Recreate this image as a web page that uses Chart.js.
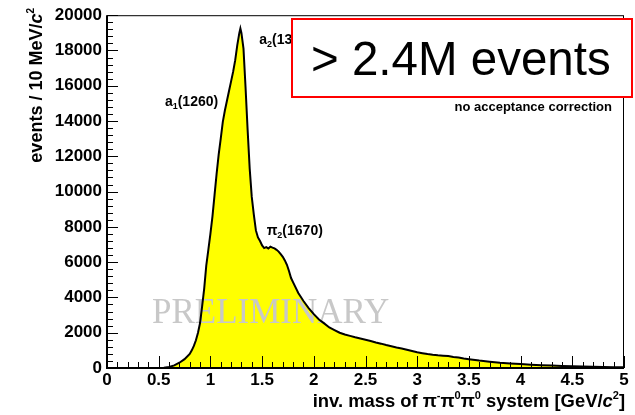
<!DOCTYPE html>
<html>
<head>
<meta charset="utf-8">
<script src="https://cdn.jsdelivr.net/npm/chart.js@4"></script>
<style>
  html, body { margin: 0; padding: 0; background: #fff; }
</style>
</head>
<body>
<canvas id="massChart" width="635" height="415"></canvas>
<script>
// pi- pi0 pi0 invariant mass spectrum (bin centres in GeV, events per 10 MeV)
const massGeV = [
  0.00, 0.50, 0.55, 0.60, 0.65, 0.70, 0.75, 0.80, 0.82, 0.84, 0.86, 0.88, 0.90,
  0.92, 0.94, 0.96, 0.98, 1.00, 1.02, 1.04, 1.06, 1.08, 1.10, 1.12, 1.14, 1.16,
  1.18, 1.20, 1.22, 1.24, 1.26, 1.28, 1.29, 1.30, 1.32, 1.34, 1.36, 1.38, 1.40,
  1.42, 1.44, 1.46, 1.48, 1.50, 1.52, 1.54, 1.56, 1.58, 1.60, 1.62, 1.64, 1.66,
  1.68, 1.70, 1.72, 1.74, 1.76, 1.78, 1.80, 1.85, 1.90, 1.95, 2.00, 2.05, 2.10,
  2.15, 2.20, 2.25, 2.30, 2.35, 2.40, 2.45, 2.50, 2.55, 2.60, 2.65, 2.70, 2.75,
  2.80, 2.85, 2.90, 2.95, 3.00, 3.05, 3.10, 3.15, 3.20, 3.25, 3.30, 3.35, 3.40,
  3.45, 3.50, 3.60, 3.70, 3.80, 3.90, 4.00, 4.10, 4.20, 4.30, 4.40, 4.50, 4.60,
  4.70, 4.80, 4.90, 5.00
];
const eventCounts = [
  0, 0, 15, 60, 150, 300, 500, 800, 1000, 1250, 1570, 2000, 2550,
  3500, 4500, 5800, 6700, 7600, 8600, 9800, 11000, 12100, 13000, 13950, 14600, 15150,
  15700, 16250, 16800, 17450, 18300, 19000, 19250, 19000, 18100, 15900, 13500, 11300, 9700,
  8700, 7800, 7400, 7200, 6950, 6800, 6850, 6780, 6880, 6820, 6780, 6700, 6600,
  6450, 6300, 6100, 5850, 5500, 5100, 4850, 4250, 3800, 3400, 3050, 2750, 2530,
  2300, 2150, 2000, 1900, 1820, 1740, 1670, 1600, 1530, 1450, 1380, 1300, 1230,
  1160, 1100, 1030, 960, 890, 840, 790, 750, 720, 700, 680, 630, 590,
  540, 500, 420, 355, 300, 260, 220, 190, 160, 135, 110, 95, 80,
  65, 55, 45, 40
];
const xTickValues = [0, 0.5, 1, 1.5, 2, 2.5, 3, 3.5, 4, 4.5, 5];
const yTickValues = [0, 2000, 4000, 6000, 8000, 10000, 12000, 14000, 16000, 18000, 20000];

const SANS = '"Liberation Sans", Arial, sans-serif';

// text made of runs with their own font and vertical shift (sub/superscripts)
function runsWidth(ctx, runs) {
  let w = 0;
  for (const r of runs) { ctx.font = r.font; w += ctx.measureText(r.text).width; }
  return w;
}
function drawRuns(ctx, runs, x, y) {
  for (const r of runs) {
    ctx.font = r.font;
    ctx.fillText(r.text, x, y + (r.dy || 0));
    x += ctx.measureText(r.text).width;
  }
}

function peakRuns(name, sub, mass) {
  return [
    { text: name, font: 'bold 14px ' + SANS },
    { text: sub, font: 'bold 9px ' + SANS, dy: 3 },
    { text: mass, font: 'bold 14px ' + SANS }
  ];
}

const decor = {
  id: 'decor',
  beforeDatasetDraw(chart, args) {
    // watermark goes between the yellow fill and the black outline
    if (args.index !== 0) return;
    const { ctx, chartArea: a } = chart;
    ctx.save();
    ctx.fillStyle = '#c8c8c8';
    ctx.font = '35px "Liberation Serif"';
    ctx.textBaseline = 'alphabetic';
    ctx.fillText('PRELIMINARY', a.left + 45, a.bottom - 45);
    ctx.restore();
  },
  afterDatasetsDraw(chart) {
    const { ctx, chartArea: a, scales } = chart;
    const xs = scales.x, ys = scales.y;
    ctx.save();

    // inward ticks, 5 subdivisions per labelled step
    ctx.strokeStyle = '#000';
    ctx.lineWidth = 1;
    ctx.beginPath();
    for (let i = 0; i <= 50; i++) {
      const px = Math.round(xs.getPixelForValue(i / 10)) + 0.5;
      const len = i % 5 === 0 ? 12 : 6;
      ctx.moveTo(px, a.bottom);
      ctx.lineTo(px, a.bottom - len);
    }
    for (let i = 0; i <= 50; i++) {
      const py = Math.round(ys.getPixelForValue(i * 400)) + 0.5;
      const len = i % 5 === 0 ? 11 : 6;
      ctx.moveTo(a.left, py);
      ctx.lineTo(a.left + len, py);
    }
    ctx.stroke();

    // frame
    ctx.strokeRect(a.left + 0.5, a.top + 0.5, a.right - a.left - 1, a.bottom - a.top);
    ctx.lineWidth = 2;
    ctx.beginPath();
    ctx.moveTo(a.left, a.top);
    ctx.lineTo(a.left, a.bottom);
    ctx.lineTo(a.right, a.bottom);
    ctx.stroke();

    // resonance labels
    ctx.fillStyle = '#000';
    ctx.textBaseline = 'alphabetic';
    drawRuns(ctx, peakRuns('a', '1', '(1260)'), xs.getPixelForValue(0.56), ys.getPixelForValue(14850));
    drawRuns(ctx, peakRuns('a', '2', '(1320)'), xs.getPixelForValue(1.472), ys.getPixelForValue(18380));
    drawRuns(ctx, peakRuns('\u03c0', '2', '(1670)'), xs.getPixelForValue(1.544), ys.getPixelForValue(7560));

    // event count box
    ctx.fillStyle = '#fff';
    ctx.fillRect(292, 19, 341, 78);
    ctx.strokeStyle = '#ff0000';
    ctx.lineWidth = 2;
    ctx.strokeRect(292, 19, 340, 78);
    ctx.fillStyle = '#000';
    ctx.font = '47.5px ' + SANS;
    ctx.fillText('> 2.4M events', 311, 75);

    ctx.font = 'bold 13px ' + SANS;
    ctx.textAlign = 'right';
    ctx.fillText('no acceptance correction', 612, 111);
    ctx.textAlign = 'left';

    // axis titles
    const f = 'bold 18.4px ' + SANS, fs = 'bold 11px ' + SANS, fi = 'italic bold 18.4px ' + SANS;
    const xTitle = [
      { text: 'inv. mass of \u03c0', font: f },
      { text: '-', font: fs, dy: -8 },
      { text: '\u03c0', font: f },
      { text: '0', font: fs, dy: -8 },
      { text: '\u03c0', font: f },
      { text: '0', font: fs, dy: -8 },
      { text: ' system [GeV/', font: f },
      { text: 'c', font: fi },
      { text: '2', font: fs, dy: -8 },
      { text: ']', font: f }
    ];
    drawRuns(ctx, xTitle, 625 - runsWidth(ctx, xTitle), 407);

    const g = 'bold 18px ' + SANS, gs = 'bold 10px ' + SANS, gi = 'italic bold 18px ' + SANS;
    const yTitle = [
      { text: 'events / 10 MeV/', font: g },
      { text: 'c', font: gi },
      { text: '2', font: gs, dy: -8 }
    ];
    const yw = runsWidth(ctx, yTitle);
    ctx.save();
    ctx.translate(42, 8 + yw);
    ctx.rotate(-Math.PI / 2);
    drawRuns(ctx, yTitle, 0, 0);
    ctx.restore();

    ctx.restore();
  }
};

const points = massGeV.map((m, i) => ({ x: m, y: eventCounts[i] }));

const config = {
  type: 'line',
  data: {
    datasets: [
      {
        label: 'outline',
        data: points,
        borderColor: '#000',
        borderWidth: 2,
        fill: false,
        pointRadius: 0,
        tension: 0
      },
      {
        label: 'fill',
        data: points,
        borderWidth: 0,
        borderColor: 'rgba(0,0,0,0)',
        backgroundColor: '#ffff00',
        fill: 'origin',
        pointRadius: 0,
        tension: 0
      }
    ]
  },
  options: {
    responsive: false,
    animation: false,
    devicePixelRatio: 1,
    layout: { padding: { top: 11, right: 11, left: 0, bottom: 0 } },
    plugins: { legend: { display: false }, tooltip: { enabled: false } },
    scales: {
      x: {
        type: 'linear',
        min: 0,
        max: 5,
        afterBuildTicks: s => { s.ticks = xTickValues.map(v => ({ value: v })); },
        afterFit: s => { s.height = 47; },
        ticks: {
          color: '#000',
          padding: 2,
          maxRotation: 0,
          autoSkip: false,
          font: { family: 'Liberation Sans', size: 17, weight: 'bold' },
          callback: v => String(v)
        },
        grid: { display: false, drawTicks: false },
        border: { display: false }
      },
      y: {
        min: 0,
        max: 20000,
        afterBuildTicks: s => { s.ticks = yTickValues.map(v => ({ value: v })); },
        afterFit: s => { s.width = 107; },
        ticks: {
          color: '#000',
          padding: 5,
          font: { family: 'Liberation Sans', size: 17, weight: 'bold' },
          callback: v => String(v)
        },
        grid: { display: false, drawTicks: false },
        border: { display: false }
      }
    }
  },
  plugins: [decor]
};

window.addEventListener('DOMContentLoaded', () => {
  new Chart(document.getElementById('massChart'), config);
});
</script>
</body>
</html>
